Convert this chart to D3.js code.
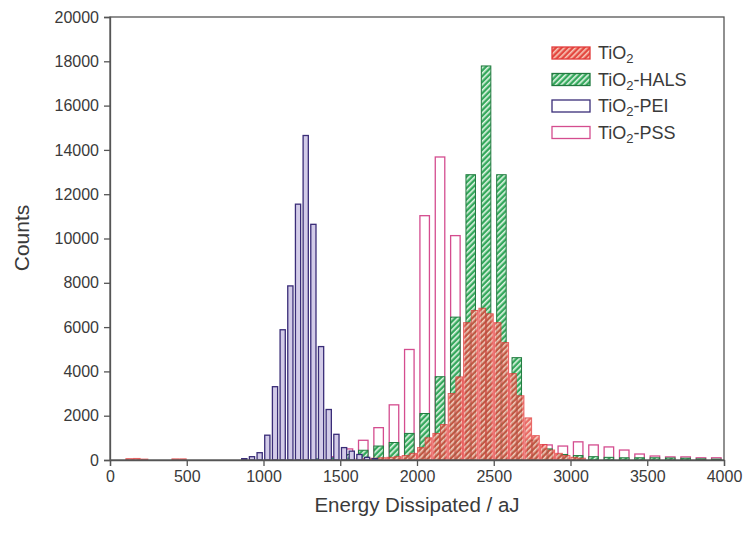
<!DOCTYPE html>
<html><head><meta charset="utf-8">
<script src="https://cdn.jsdelivr.net/npm/d3@7/dist/d3.min.js"></script>
<style>body{margin:0;background:#fff}svg{display:block}text{font-family:"Liberation Sans",Arial,sans-serif}</style>
</head><body>
<script>
// ---- data (bin centre in aJ, counts) ----
const tio2Centers = [125,175,225,425,475,1625,1675,1725,1775,1825,1875,1925,1975,2025,2075,2125,2175,2225,2275,2325,2375,2425,2475,2525,2575,2625,2675,2725,2775,2825,2875,2925,2975,3025,3075];
const tio2Counts  = [60,70,40,50,50,50,60,80,100,120,150,200,300,560,1000,1200,1600,3000,3750,6200,6750,6850,6600,6200,5300,3900,2900,1900,1100,700,450,300,200,120,80];
const halsCenters = [1350,1450,1550,1650,1750,1850,1950,2050,2150,2250,2350,2450,2550,2650,2750,2850,2950,3050,3150,3250,3350,3450,3550,3650,3750,3850,3950];
const halsCounts  = [50,100,250,440,630,790,1200,2100,3760,6450,12880,17790,12880,4620,900,500,250,200,150,120,100,100,100,90,80,50,40];
const peiCenters  = [875,925,975,1025,1075,1125,1175,1225,1275,1325,1375,1425,1475,1525,1575,1625,1675,1725];
const peiCounts   = [60,150,330,1120,3310,5880,7860,11550,14650,10640,5120,2280,1160,560,400,250,120,60];
const pssCenters  = [1450,1550,1650,1750,1850,1950,2050,2150,2250,2350,2450,2550,2650,2750,2850,2950,3050,3150,3250,3350,3450,3550,3650,3750,3850,3950];
const pssCounts   = [150,500,890,1460,2490,4990,11030,13680,10130,6000,3600,2000,1200,800,680,630,820,680,590,450,270,180,140,140,100,100];
const xTicks = [0,500,1000,1500,2000,2500,3000,3500,4000];
const yTicks = [0,2000,4000,6000,8000,10000,12000,14000,16000,18000,20000];
const seriesNames = ["TiO2","TiO2-HALS","TiO2-PEI","TiO2-PSS"];

const W=747,H=533;
const svg=d3.select("body").append("svg").attr("width",W).attr("height",H);
const x=d3.scaleLinear().domain([0,4000]).range([110,724]);
const y=d3.scaleLinear().domain([0,20000]).range([460,17]);

const defs=svg.append("defs");
function hatch(id,bg,fg){
  const p=defs.append("pattern").attr("id",id).attr("patternUnits","userSpaceOnUse")
    .attr("width",4).attr("height",4).attr("patternTransform","rotate(45)");
  p.append("rect").attr("width",4).attr("height",4).attr("fill",bg);
  p.append("rect").attr("x",0).attr("width",1.6).attr("height",4).attr("fill",fg);
}
hatch("hRed","#e4473f","#f7c6b8");
hatch("hGreen","#34a85c","#e2f6e6");

function bars(centers,counts,width,attrs){
  const g=svg.append("g");
  const sel=g.selectAll("rect").data(centers.map((c,i)=>({c,v:counts[i]}))).join("rect")
    .attr("x",d=>x(d.c-width/2)).attr("width",x(width)-x(0))
    .attr("y",d=>y(d.v)).attr("height",d=>y(0)-y(d.v));
  for(const k in attrs) sel.attr(k,attrs[k]);
  return g;
}
bars(pssCenters,pssCounts,62,{fill:"#fff","stroke":"#d44d8f","stroke-width":1.3});
bars(halsCenters,halsCounts,62,{fill:"url(#hGreen)","stroke":"#217a3f","stroke-width":1});
bars(tio2Centers,tio2Counts,43,{fill:"url(#hRed)","stroke":"#e23a3a","stroke-width":1,"opacity":0.8});
bars(peiCenters,peiCounts,34,{fill:"#d2cbe8","stroke":"#3a2d78","stroke-width":1.3});

// frame
const ax="#555";
svg.append("rect").attr("x",x(0)).attr("y",y(20000)).attr("width",x(4000)-x(0)).attr("height",y(0)-y(20000))
  .attr("fill","none").attr("stroke",ax).attr("stroke-width",1.3);

const gx=svg.append("g").attr("transform",`translate(0,${y(0)})`)
  .call(d3.axisBottom(x).tickValues(xTicks).tickSize(6).tickPadding(5).tickFormat(d3.format("d")));
const gy=svg.append("g").attr("transform",`translate(${x(0)},0)`)
  .call(d3.axisLeft(y).tickValues(yTicks).tickSize(6).tickPadding(5).tickFormat(d3.format("d")));
[gx,gy].forEach(g=>{
  g.select(".domain").attr("stroke",ax).attr("stroke-width",1.3);
  g.selectAll(".tick line").attr("stroke",ax).attr("stroke-width",1.3);
  g.selectAll(".tick text").attr("fill","#3a3a3a").style("font-size","16px").style("font-family","'Liberation Sans',Arial,sans-serif");
});

svg.append("text").attr("x",417).attr("y",512).attr("text-anchor","middle")
  .attr("fill","#3a3a3a").style("font-size","20.5px").text("Energy Dissipated / aJ");
svg.append("text").attr("transform","translate(29,238) rotate(-90)").attr("text-anchor","middle")
  .attr("fill","#3a3a3a").style("font-size","21px").text("Counts");

// legend
const leg=[{fill:"url(#hRed)",stroke:"#e23a3a"},{fill:"url(#hGreen)",stroke:"#217a3f"},{fill:"#fff",stroke:"#3a2d78"},{fill:"#fff",stroke:"#d44d8f"}];
const lg=svg.append("g");
seriesNames.forEach((n,i)=>{
  const yy=47+i*26.5;
  lg.append("rect").attr("x",552).attr("y",yy).attr("width",38).attr("height",12)
    .attr("fill",leg[i].fill).attr("stroke",leg[i].stroke).attr("stroke-width",1.3);
  const t=lg.append("text").attr("x",598).attr("y",yy+12).attr("fill","#3a3a3a").style("font-size","18px");
  t.append("tspan").text("TiO");
  t.append("tspan").attr("dy",4).style("font-size","13px").text("2");
  const rest=n.slice(4);
  if(rest) t.append("tspan").attr("dy",-4).text(rest);
});
</script>
</body></html>
